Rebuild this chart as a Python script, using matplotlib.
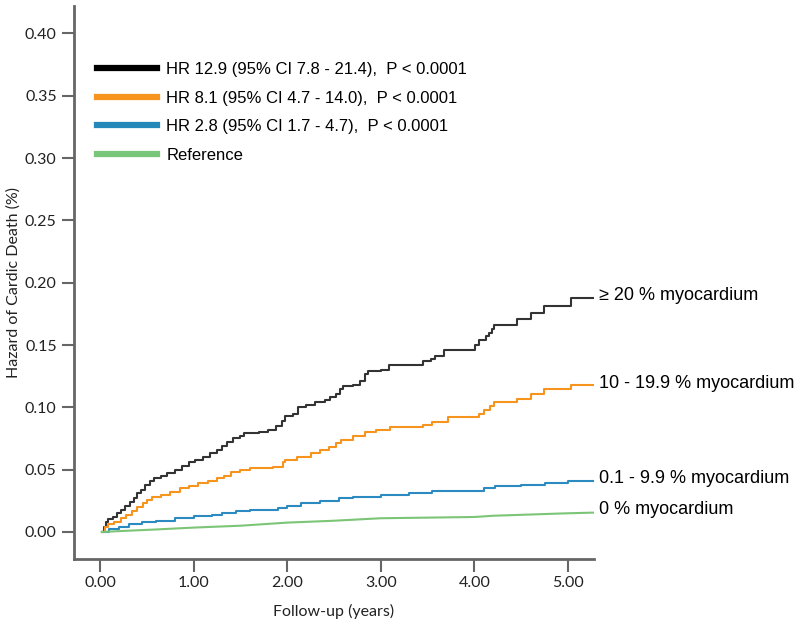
import matplotlib
matplotlib.use("Agg")
import matplotlib.pyplot as plt

# cumulative hazard (years, hazard)
t_high = [0.02, 0.04, 0.06, 0.09, 0.14, 0.18, 0.22, 0.27, 0.32, 0.36, 0.40, 0.44, 0.48, 0.53,
          0.58, 0.65, 0.72, 0.80, 0.88, 0.95, 1.02, 1.10, 1.18, 1.25, 1.30, 1.36, 1.42, 1.50,
          1.54, 1.70, 1.80, 1.88, 1.94, 1.98, 2.06, 2.12, 2.20, 2.30, 2.40, 2.46, 2.52, 2.56,
          2.60, 2.70, 2.78, 2.83, 2.86, 3.00, 3.09, 3.45, 3.54, 3.58, 3.68, 4.01, 4.05, 4.12,
          4.16, 4.19, 4.21, 4.45, 4.61, 4.74, 5.03, 5.27]
h_high = [0.000, 0.004, 0.008, 0.010, 0.012, 0.015, 0.018, 0.021, 0.024, 0.027, 0.031, 0.034,
          0.038, 0.041, 0.043, 0.045, 0.047, 0.050, 0.053, 0.056, 0.058, 0.060, 0.063, 0.066,
          0.069, 0.072, 0.075, 0.077, 0.079, 0.080, 0.082, 0.085, 0.089, 0.093, 0.095, 0.100,
          0.102, 0.104, 0.106, 0.108, 0.111, 0.115, 0.117, 0.118, 0.121, 0.127, 0.129, 0.130,
          0.134, 0.137, 0.139, 0.141, 0.146, 0.150, 0.154, 0.157, 0.160, 0.163, 0.166, 0.171,
          0.176, 0.181, 0.188, 0.188]

t_mid = [0.02, 0.05, 0.09, 0.15, 0.22, 0.28, 0.34, 0.40, 0.46, 0.50, 0.56, 0.65, 0.75, 0.85,
         0.95, 1.05, 1.15, 1.25, 1.32, 1.40, 1.50, 1.60, 1.85, 1.95, 1.98, 2.10, 2.25, 2.35,
         2.45, 2.52, 2.58, 2.70, 2.83, 2.95, 3.10, 3.45, 3.55, 3.72, 4.05, 4.10, 4.17, 4.21,
         4.45, 4.61, 4.74, 5.03, 5.27]
h_mid = [0.000, 0.004, 0.006, 0.008, 0.011, 0.014, 0.017, 0.020, 0.023, 0.026, 0.028, 0.030,
         0.032, 0.035, 0.037, 0.039, 0.041, 0.043, 0.045, 0.048, 0.050, 0.051, 0.052, 0.056,
         0.058, 0.060, 0.063, 0.066, 0.068, 0.071, 0.074, 0.077, 0.080, 0.082, 0.084, 0.086,
         0.088, 0.092, 0.095, 0.098, 0.101, 0.104, 0.107, 0.111, 0.115, 0.118, 0.118]

t_low = [0.02, 0.10, 0.20, 0.31, 0.45, 0.60, 0.80, 1.00, 1.20, 1.30, 1.45, 1.60, 1.90, 2.00,
         2.15, 2.35, 2.55, 2.70, 3.00, 3.30, 3.55, 4.00, 4.10, 4.22, 4.50, 4.75, 5.00, 5.27]
h_low = [0.000, 0.002, 0.004, 0.006, 0.008, 0.009, 0.011, 0.0125, 0.014, 0.0155, 0.017, 0.018,
         0.019, 0.021, 0.023, 0.025, 0.027, 0.028, 0.030, 0.031, 0.033, 0.033, 0.035, 0.037,
         0.038, 0.039, 0.041, 0.041]

t_ref = [0.02, 0.30, 0.60, 1.00, 1.50, 2.00, 2.50, 3.00, 3.50, 4.00, 4.20, 4.60, 5.00, 5.27]
h_ref = [0.000, 0.001, 0.002, 0.0035, 0.005, 0.0075, 0.009, 0.011, 0.0115, 0.012, 0.013,
         0.014, 0.015, 0.0155]

legend_labels = ["HR 12.9 (95% CI 7.8 - 21.4),  P < 0.0001",
                 "HR 8.1 (95% CI 4.7 - 14.0),  P < 0.0001",
                 "HR 2.8 (95% CI 1.7 - 4.7),  P < 0.0001",
                 "Reference"]
end_labels = ["\u2265 20 % myocardium", "10 - 19.9 % myocardium",
              "0.1 - 9.9 % myocardium", "0 % myocardium"]
colors = ["#333333", "#f7941d", "#2b8bc0", "#7cc576"]
legend_colors = ["#000000", "#f7941d", "#2488b8", "#78c679"]

x_ticks = [0, 1, 2, 3, 4, 5]
y_ticks = [0.00, 0.05, 0.10, 0.15, 0.20, 0.25, 0.30, 0.35, 0.40]

fig = plt.figure(figsize=(8, 6.25), dpi=100)
ax = fig.add_axes([74 / 800, 1 - 559 / 625, 520 / 800, 553 / 625])

series = [(t_high, h_high, True), (t_mid, h_mid, True), (t_low, h_low, True), (t_ref, h_ref, False)]
lines = []
for (t, h, step), c, lab in zip(series, colors, legend_labels):
    ln, = ax.plot(t, h, color=c, lw=1.5, drawstyle="steps-post" if step else "default", label=lab)
    lines.append(ln)

# curve labels at the right end of each curve
offsets = [0.002, 0.001, 0.002, 0.0025]
for (t, h, _), txt, off in zip(series, end_labels, offsets):
    ax.text(t[-1] + 0.06, h[-1] + off, txt, fontsize=13, family="Liberation Sans",
            va="center", ha="left", clip_on=False)

leg = ax.legend(handles=lines, loc="upper left", bbox_to_anchor=(97 / 800, 1 - 62 / 625),
                bbox_transform=fig.transFigure, frameon=False, borderpad=0, borderaxespad=0,
                handlelength=3.6, handletextpad=0.55, labelspacing=0.82,
                prop={"family": "Liberation Sans", "size": 12})
for lh, c in zip(leg.get_lines(), legend_colors):
    lh.set_linewidth(4.5)
    lh.set_color(c)

ax.set_xlim(-0.278, 5.278)
ax.set_ylim(-0.0217, 0.422)
ax.set_xticks(x_ticks)
ax.set_xticklabels([f"{v:.2f}" for v in x_ticks])
ax.set_yticks(y_ticks)
ax.set_yticklabels([f"{v:.2f}" for v in y_ticks])

for s in ["top", "right"]:
    ax.spines[s].set_visible(False)
for s in ["left", "bottom"]:
    ax.spines[s].set_color("#666666")
    ax.spines[s].set_linewidth(2)
ax.tick_params(colors="#666666", width=1.5, length=9, labelcolor="#222222", labelsize=11.5)
for lbl in ax.get_xticklabels() + ax.get_yticklabels():
    lbl.set_family("Lato")

ax.set_xlabel("Follow-up (years)", family="Lato", fontsize=11.5, color="#222222", labelpad=10)
ax.set_ylabel("Hazard of Cardic Death (%)", family="Lato", fontsize=11.5, color="#222222", labelpad=3)

fig.savefig("out.png", dpi=100)
